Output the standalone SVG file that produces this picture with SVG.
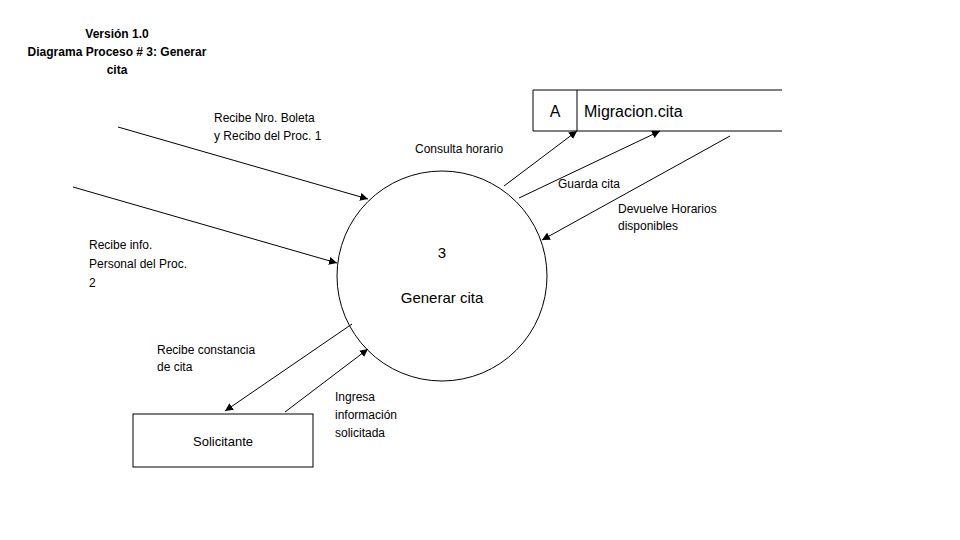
<svg xmlns="http://www.w3.org/2000/svg" width="960" height="540" viewBox="0 0 960 540">
<defs>
<style>
text{font-family:"Liberation Sans","Open Sans",sans-serif;fill:#000}
.t{font-size:12px}
.b{font-size:12px;font-weight:bold}
.big{font-size:15px}
.line{stroke:#000;stroke-width:1;fill:none}
</style>
<marker id="ah" viewBox="0 0 10 10" refX="10" refY="5" markerWidth="8" markerHeight="8" markerUnits="userSpaceOnUse" orient="auto">
<path d="M0,0 L10,5 L0,10 z" fill="#000"/>
</marker>
</defs>
<rect width="960" height="540" fill="#fff"/>
<g id="title">
<text class="b" x="117" y="38" text-anchor="middle">Versión 1.0</text>
<text class="b" x="117" y="56" text-anchor="middle">Diagrama Proceso # 3: Generar</text>
<text class="b" x="117" y="74" text-anchor="middle">cita</text>
</g>
<g id="process3">
<circle cx="442" cy="276" r="105" class="line"/>
<text class="big" x="442" y="258" text-anchor="middle">3</text>
<text class="big" x="442" y="303" text-anchor="middle">Generar cita</text>
</g>
<g id="storeA">
<path class="line" d="M782,90 H533 V131 H782 M577,90 V131"/>
<text x="555" y="117" text-anchor="middle" style="font-size:16px">A</text>
<text x="584" y="117" style="font-size:16px">Migracion.cita</text>
</g>
<g id="solicitante">
<rect x="133" y="414" width="180" height="53" class="line"/>
<text x="223" y="446" text-anchor="middle" style="font-size:13px">Solicitante</text>
</g>
<g id="connectors">
<line class="line" x1="118" y1="127" x2="368" y2="199" marker-end="url(#ah)"/>
<line class="line" x1="73" y1="187" x2="337" y2="263" marker-end="url(#ah)"/>
<line class="line" x1="504" y1="186" x2="577" y2="131" marker-end="url(#ah)"/>
<line class="line" x1="519" y1="198" x2="660" y2="131" marker-end="url(#ah)"/>
<line class="line" x1="730" y1="136" x2="542" y2="240" marker-end="url(#ah)"/>
<line class="line" x1="352" y1="324" x2="225" y2="411" marker-end="url(#ah)"/>
<line class="line" x1="285" y1="412" x2="368" y2="349" marker-end="url(#ah)"/>
</g>
<g id="labels">
<text class="t" x="214" y="122">Recibe Nro. Boleta</text>
<text class="t" x="214" y="140">y Recibo del Proc. 1</text>
<text class="t" x="415" y="153">Consulta horario</text>
<text class="t" x="558" y="188">Guarda cita</text>
<text class="t" x="618" y="213">Devuelve Horarios</text>
<text class="t" x="618" y="230">disponibles</text>
<text class="t" x="89" y="249">Recibe info.</text>
<text class="t" x="89" y="268">Personal del Proc.</text>
<text class="t" x="89" y="287">2</text>
<text class="t" x="157" y="354">Recibe constancia</text>
<text class="t" x="157" y="371">de cita</text>
<text class="t" x="335" y="401">Ingresa</text>
<text class="t" x="335" y="419">información</text>
<text class="t" x="335" y="437">solicitada</text>
</g>
</svg>
